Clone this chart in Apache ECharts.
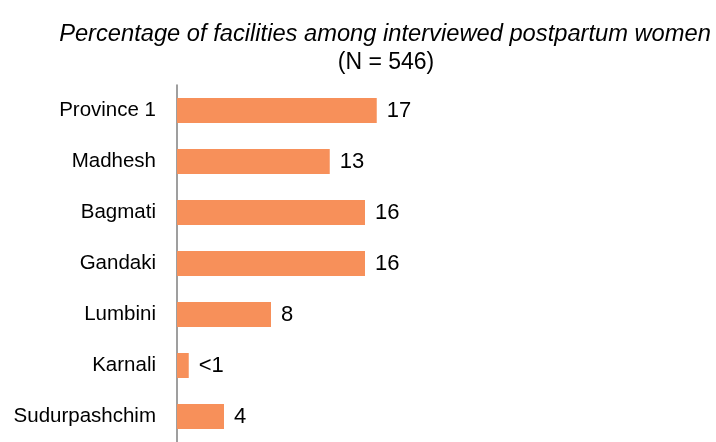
<!DOCTYPE html>
<html>
<head>
<meta charset="utf-8">
<script src="https://cdn.jsdelivr.net/npm/echarts@6/dist/echarts.min.js"></script>
<style>
  html, body { margin: 0; padding: 0; background: #fff; }
  #chart { width: 716px; height: 442px; }
</style>
</head>
<body>
<div id="chart"></div>
<script>
// data
const provinces = ['Province 1', 'Madhesh', 'Bagmati', 'Gandaki', 'Lumbini', 'Karnali', 'Sudurpashchim'];
const percentages = [17, 13, 16, 16, 8, 1, 4];
const valueLabels = ['17', '13', '16', '16', '8', '<1', '4'];

const chart = echarts.init(document.getElementById('chart'));

chart.setOption({
  animation: false,
  textStyle: { fontFamily: 'Liberation Sans, Arial, sans-serif' },
  title: [
    {
      text: 'Percentage of facilities among interviewed postpartum women',
      left: 380,
      textAlign: 'center',
      top: 17,
      textStyle: { fontSize: 23.7, fontStyle: 'italic', fontWeight: 'normal', color: '#000' }
    },
    {
      text: '(N = 546)',
      left: 381,
      textAlign: 'center',
      top: 46,
      textStyle: { fontSize: 23, fontWeight: 'normal', color: '#000' }
    }
  ],
  grid: {
    left: 177,
    top: 85,
    width: 235,
    height: 363
  },
  xAxis: {
    type: 'value',
    min: 0,
    max: 20,
    show: false
  },
  yAxis: {
    type: 'category',
    inverse: true,
    data: provinces,
    axisLine: { lineStyle: { color: '#7f7f7f', width: 1.5 } },
    axisTick: { show: false },
    axisLabel: { color: '#000', fontSize: 20.5, margin: 21 }
  },
  series: [
    {
      type: 'bar',
      data: percentages,
      barWidth: 25,
      itemStyle: { color: '#F7905A' },
      label: {
        show: true,
        position: 'right',
        distance: 10,
        color: '#000',
        fontSize: 22,
        formatter: p => valueLabels[p.dataIndex]
      }
    }
  ]
});
</script>
</body>
</html>
